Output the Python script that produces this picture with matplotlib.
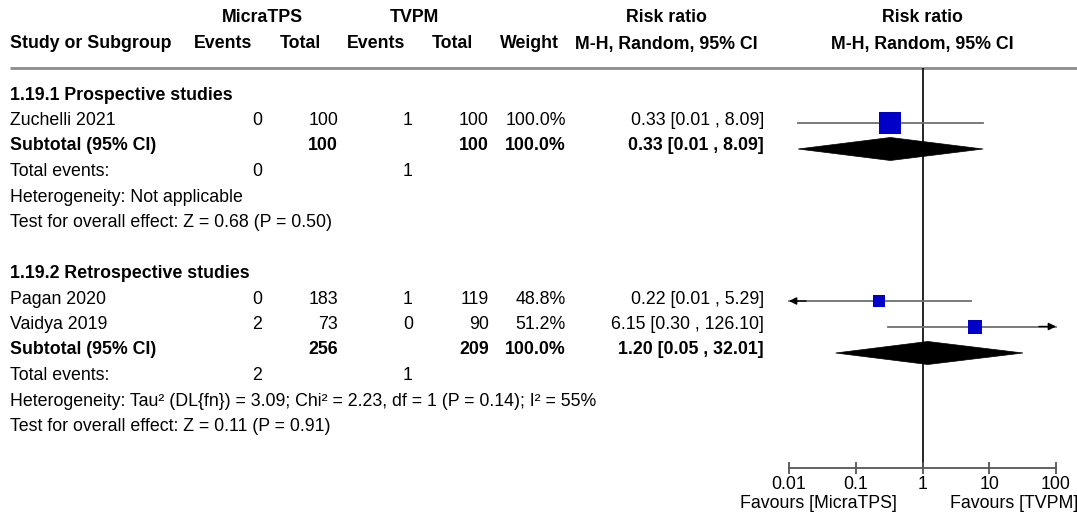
import matplotlib
matplotlib.use("Agg")
import matplotlib.pyplot as plt
from matplotlib.patches import Polygon

plt.rcParams['font.family'] = ['Liberation Sans', 'DejaVu Sans']

# ---------------- data ----------------
group_titles = ["1.19.1 Prospective studies", "1.19.2 Retrospective studies"]
study_names = [["Zuchelli 2021"], ["Pagan 2020", "Vaidya 2019"]]
micra_events = [[0], [0, 2]]
micra_total = [[100], [183, 73]]
tvpm_events = [[1], [1, 0]]
tvpm_total = [[100], [119, 90]]
weights = [[100.0], [48.8, 51.2]]
rr = [[0.33], [0.22, 6.15]]
rr_low = [[0.0137], [0.0089, 0.30]]
rr_high = [[8.09], [5.29, 126.10]]

sub_micra_total = [100, 256]
sub_tvpm_total = [100, 209]
sub_weight = [100.0, 100.0]
sub_micra_events = [0, 2]
sub_tvpm_events = [1, 1]
sub_rr = [0.33, 1.20]
sub_low = [0.0137, 0.05]
sub_high = [8.09, 32.01]

heterogeneity = [
    "Heterogeneity: Not applicable",
    "Heterogeneity: Tau\u00b2 (DL{fn}) = 3.09; Chi\u00b2 = 2.23, df = 1 (P = 0.14); I\u00b2 = 55%",
]
overall_tests = [
    "Test for overall effect: Z = 0.68 (P = 0.50)",
    "Test for overall effect: Z = 0.11 (P = 0.91)",
]

x_ticks = [0.01, 0.1, 1, 10, 100]
x_ticklabels = ["0.01", "0.1", "1", "10", "100"]
favours = ["Favours [MicraTPS]", "Favours [TVPM]"]

# ---------------- layout ----------------
W, H = 1077, 513
FS = 12.8
X_STUDY = 10
X_ME, X_MT, X_TE, X_TT, X_W, X_RR = 262, 338, 413, 489, 566, 764
FP_LEFT, FP_RIGHT = 789, 1056
TOP_LINE, AXIS_Y = 68, 468
ROW0, STEP = 95, 25.5
CI_COLOR = "#707070"
SQ_COLOR = "#0000c8"

fig = plt.figure(figsize=(W / 100, H / 100), dpi=100)
fig.patch.set_facecolor("white")

tab = fig.add_axes([0, 0, 1, 1])
tab.set_xlim(0, W)
tab.set_ylim(H, 0)
tab.axis("off")

fp = fig.add_axes([FP_LEFT / W, 1 - AXIS_Y / H,
                   (FP_RIGHT - FP_LEFT) / W, (AXIS_Y - TOP_LINE) / H])
fp.patch.set_alpha(0)
fp.set_xscale("log")
fp.set_xlim(x_ticks[0], x_ticks[-1])
fp.set_ylim(AXIS_Y, TOP_LINE)
for side in ("top", "left", "right"):
    fp.spines[side].set_visible(False)
fp.spines["bottom"].set_color("#555555")
fp.spines["bottom"].set_linewidth(1.3)
fp.set_yticks([])
fp.set_xticks(x_ticks)
fp.set_xticklabels(x_ticklabels)
fp.minorticks_off()
fp.tick_params(axis="x", direction="inout", length=8, width=1.3, color="#555555",
               labelsize=FS, pad=2, labelcolor="black")
fp.axvline(1, color="black", lw=1.2, zorder=1)


def txt(x, y, s, ha="left", bold=False, va="center"):
    tab.text(x, y, s, ha=ha, va=va, fontsize=FS,
             fontweight="bold" if bold else "normal", color="black")


# ---------------- headers ----------------
txt(262, 18, "MicraTPS", ha="center", bold=True)
txt(414, 18, "TVPM", ha="center", bold=True)
txt(666, 18, "Risk ratio", ha="center", bold=True)
txt(922, 18, "Risk ratio", ha="center", bold=True)
txt(X_STUDY, 44, "Study or Subgroup", bold=True)
txt(223, 44, "Events", ha="center", bold=True)
txt(300, 44, "Total", ha="center", bold=True)
txt(376, 44, "Events", ha="center", bold=True)
txt(452, 44, "Total", ha="center", bold=True)
txt(529, 44, "Weight", ha="center", bold=True)
txt(666, 44, "M-H, Random, 95% CI", ha="center", bold=True)
txt(922, 44, "M-H, Random, 95% CI", ha="center", bold=True)
tab.plot([X_STUDY, W], [TOP_LINE, TOP_LINE], color="#8c8c8c", lw=2,
         solid_capstyle="butt")


def ci_label(est, lo, hi):
    return f"{est:.2f} [{lo:.2f} , {hi:.2f}]"


def draw_ci(y, lo, hi):
    xmin, xmax = x_ticks[0], x_ticks[-1]
    fp.plot([max(lo, xmin), min(hi, xmax)], [y, y], color=CI_COLOR, lw=1.3,
            zorder=2, clip_on=False)
    arrow = dict(arrowstyle="-|>", color="black", lw=1.0,
                 mutation_scale=11, shrinkA=0, shrinkB=0)
    if lo < xmin:
        fp.annotate("", xy=(xmin, y), xytext=(xmin * 1.8, y),
                    arrowprops=arrow, annotation_clip=False, zorder=3)
    if hi > xmax:
        fp.annotate("", xy=(xmax, y), xytext=(xmax / 1.8, y),
                    arrowprops=arrow, annotation_clip=False, zorder=3)


# ---------------- body ----------------
row = 0
for g in range(len(group_titles)):
    y = ROW0 + row * STEP
    txt(X_STUDY, y, group_titles[g], bold=True)
    row += 1
    for i, name in enumerate(study_names[g]):
        y = ROW0 + row * STEP
        txt(X_STUDY, y, name)
        txt(X_ME, y, str(micra_events[g][i]), ha="right")
        txt(X_MT, y, str(micra_total[g][i]), ha="right")
        txt(X_TE, y, str(tvpm_events[g][i]), ha="right")
        txt(X_TT, y, str(tvpm_total[g][i]), ha="right")
        txt(X_W, y, f"{weights[g][i]:.1f}%", ha="right")
        txt(X_RR, y, ci_label(rr[g][i], rr_low[g][i], rr_high[g][i]), ha="right")
        draw_ci(y + 2, rr_low[g][i], rr_high[g][i])
        side_px = 23 * (weights[g][i] / 100) ** 0.8
        fp.plot([rr[g][i]], [y + 2], marker="s", ms=side_px * 0.72,
                color=SQ_COLOR, mew=0, zorder=4, clip_on=False)
        row += 1
    y = ROW0 + row * STEP
    txt(X_STUDY, y, "Subtotal (95% CI)", bold=True)
    txt(X_MT, y, str(sub_micra_total[g]), ha="right", bold=True)
    txt(X_TT, y, str(sub_tvpm_total[g]), ha="right", bold=True)
    txt(X_W, y, f"{sub_weight[g]:.1f}%", ha="right", bold=True)
    txt(X_RR, y, ci_label(sub_rr[g], sub_low[g], sub_high[g]), ha="right", bold=True)
    yd = y + 3
    fp.add_patch(Polygon([(sub_low[g], yd), (sub_rr[g], yd - 11.5),
                          (sub_high[g], yd), (sub_rr[g], yd + 11.5)],
                         closed=True, facecolor="black", edgecolor="black",
                         lw=0.5, zorder=3, clip_on=False))
    row += 1
    y = ROW0 + row * STEP
    txt(X_STUDY, y, "Total events:")
    txt(X_ME, y, str(sub_micra_events[g]), ha="right")
    txt(X_TE, y, str(sub_tvpm_events[g]), ha="right")
    row += 1
    txt(X_STUDY, ROW0 + row * STEP, heterogeneity[g])
    row += 1
    txt(X_STUDY, ROW0 + row * STEP, overall_tests[g])
    row += 2

# ---------------- favours labels ----------------
txt(897, 512, favours[0], ha="right", va="bottom")
txt(950, 512, favours[1], ha="left", va="bottom")

fig.savefig("out.png", dpi=100, facecolor="white")
